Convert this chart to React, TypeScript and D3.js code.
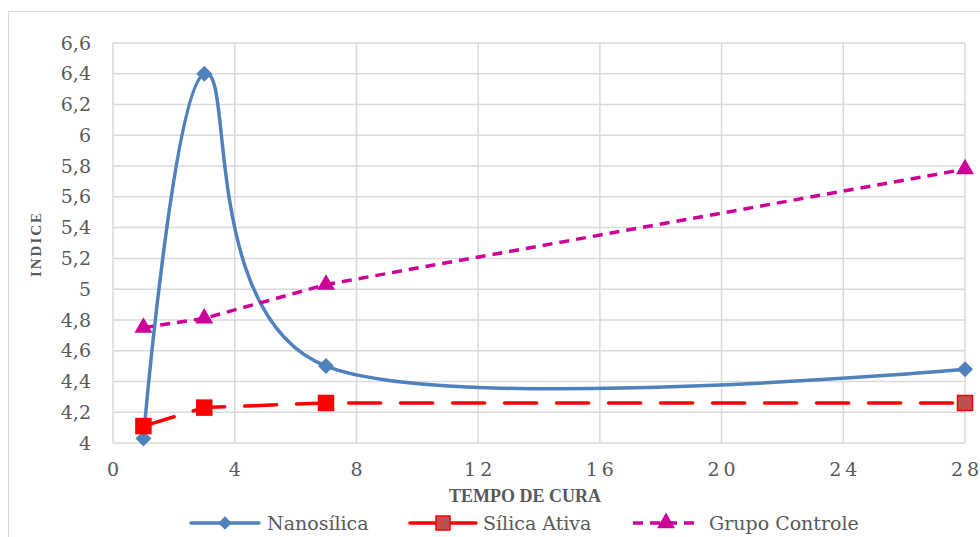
import * as d3 from 'd3';

const days = [1, 3, 7, 28];
const nanosilica = [4.03, 6.4, 4.5, 4.48];
const silicaAtiva = [4.11, 4.23, 4.26, 4.26];
const grupoControle = [4.75, 4.81, 5.03, 5.78];
const yTicks = [4, 4.2, 4.4, 4.6, 4.8, 5, 5.2, 5.4, 5.6, 5.8, 6, 6.2, 6.4, 6.6];
const xTicks = [0, 4, 8, 12, 16, 20, 24, 28];

const W = 980;
const H = 537;
const margin = { left: 113, right: 15, top: 43, bottom: 94 };

const BLUE = '#4F81BD';
const RED = '#FF0000';
const MAGENTA = '#CC0099';
const FONT = '"DejaVu Serif", serif';
const TITLE_FONT = '"Liberation Serif", "Times New Roman", serif';

// wide diamond like Excel's marker
const diamondPath = 'M0,-8L8,0L0,8L-8,0Z';
const triangle = d3.symbol(d3.symbolTriangle, 140);

export default function App() {
  const x = d3.scaleLinear().domain([0, 28]).range([margin.left, W - margin.right]);
  const y = d3.scaleLinear().domain([4, 6.6]).range([H - margin.bottom, margin.top]);

  const smooth = d3
    .line<number>()
    .x((_d, i) => x(days[i]))
    .y((d) => y(d))
    .curve(d3.curveCardinal.tension(0));
  const straight = d3
    .line<number>()
    .x((_d, i) => x(days[i]))
    .y((d) => y(d));

  return (
    <svg width={W} height={H} style={{ position: 'absolute', left: 0, top: 0 }}>
      <rect x={0} y={0} width={W} height={H} fill="#fff" />
      <rect x={8.5} y={11.5} width={W} height={H} fill="none" stroke="#D9D9D9" />
      {/* grid */}
      {yTicks.map((t) => (
        <line key={'gy' + t} x1={x(0)} x2={x(28)} y1={y(t)} y2={y(t)} stroke="#D9D9D9" strokeWidth={1.5} />
      ))}
      {xTicks.map((t) => (
        <line key={'gx' + t} x1={x(t)} x2={x(t)} y1={y(4)} y2={y(6.6)} stroke="#D9D9D9" strokeWidth={1.5} />
      ))}
      {/* tick labels */}
      {yTicks.map((t) => (
        <text key={'ty' + t} x={x(0) - 22} y={y(t)} dy="0.35em" textAnchor="end" fontFamily={FONT} fontSize={19} fill="#595959">
          {String(t).replace('.', ',')}
        </text>
      ))}
      {xTicks.map((t) => (
        <text key={'tx' + t} x={x(t)} y={y(4) + 33} textAnchor="middle" fontFamily={FONT} fontSize={19} fill="#595959">
          {String(t).split('').map((c, i) => (
            <tspan key={i} dx={i > 0 ? 4 : 0}>{c}</tspan>
          ))}
        </text>
      ))}
      <text x={525} y={502} textAnchor="middle" fontFamily={TITLE_FONT} fontSize={18} fontWeight="bold" fill="#595959">
        TEMPO DE CURA
      </text>
      <text transform={`translate(41,${(y(4) + y(6.6)) / 2 + 1}) rotate(-90)`} textAnchor="middle" fontFamily={TITLE_FONT} fontSize={15} fontWeight="bold" fill="#595959" letterSpacing={2}>
        INDICE
      </text>
      {/* series */}
      <path d={smooth(nanosilica) ?? ''} fill="none" stroke={BLUE} strokeWidth={3.5} />
      <path d={straight(grupoControle) ?? ''} fill="none" stroke={MAGENTA} strokeWidth={3.5} strokeDasharray="10 7" />
      <path d={straight(silicaAtiva) ?? ''} fill="none" stroke={RED} strokeWidth={3.5} strokeDasharray="32 20" strokeLinecap="round" />
      {nanosilica.map((v, i) => (
        <path key={'n' + i} d={diamondPath} transform={`translate(${x(days[i])},${y(v)})`} fill={BLUE} />
      ))}
      {grupoControle.map((v, i) => (
        <path key={'g' + i} d={triangle() ?? ''} transform={`translate(${x(days[i])},${y(v)})`} fill={MAGENTA} />
      ))}
      {silicaAtiva.map((v, i) => (
        <rect key={'s' + i} x={x(days[i]) - 7.5} y={y(v) - 7.5} width={15} height={15}
          fill={i === days.length - 1 ? '#C0504D' : RED} stroke={RED} strokeWidth={1.5} />
      ))}
      {/* legend */}
      <g fontFamily={FONT} fontSize={19} fill="#595959">
        <line x1={191} x2={259} y1={523} y2={523} stroke={BLUE} strokeWidth={3.5} strokeLinecap="round" />
        <path d={diamondPath} transform="translate(225,523) scale(0.85)" fill={BLUE} />
        <text x={267} y={523} dy="0.35em">Nanosílica</text>
        <line x1={410} x2={476} y1={523} y2={523} stroke={RED} strokeWidth={3.5} strokeLinecap="round" />
        <rect x={436} y={516} width={14} height={14} fill="#C0504D" stroke={RED} strokeWidth={1.5} />
        <text x={483} y={523} dy="0.35em">Sílica Ativa</text>
        <line x1={633} x2={700} y1={523} y2={523} stroke={MAGENTA} strokeWidth={3.5} strokeDasharray="10 7" />
        <path d={triangle() ?? ''} transform="translate(666,523)" fill={MAGENTA} />
        <text x={709} y={523} dy="0.35em">Grupo Controle</text>
      </g>
    </svg>
  );
}
